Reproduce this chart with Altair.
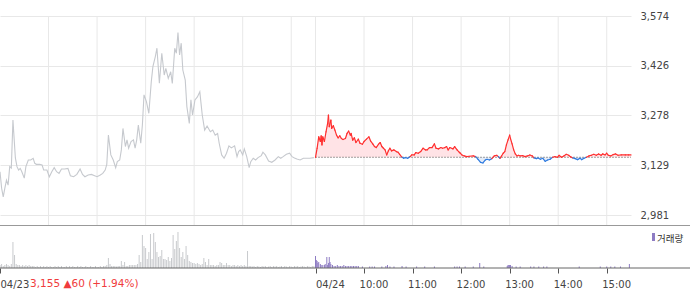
import altair as alt
import numpy as np
import pandas as pd

# ---------------- data ----------------
base_price = 3153          # dotted reference line
last_price = 3155
change = 60
change_pct = 1.94

y_ticks = [2981, 3129, 3278, 3426, 3574]
x_tick_minutes = [0, 390, 450, 510, 570, 630, 690, 750]
x_tick_labels = ["04/23", "04/24", "10:00", "11:00", "12:00", "13:00", "14:00", "15:00"]
grid_minutes = [60, 120, 180, 240, 300, 360, 390, 450, 510, 570, 630, 690, 750]

# minutes since 04/23 09:00 (session time, 390 min per day)
day1_minutes = [0, 2, 4, 6, 8, 10, 12, 14, 16, 19,
                21, 23, 25, 27, 30, 32, 35, 38, 41, 43,
                45, 49, 52, 54, 58, 61, 64, 67, 70, 73,
                76, 80, 84, 87, 91, 95, 99, 102, 105, 109,
                113, 117, 120, 124, 127, 130, 132, 134, 137, 140,
                143, 145, 148, 150, 152, 155, 157, 159, 162, 165,
                167, 169, 171, 174, 176, 178, 181, 184, 187, 189,
                192, 194, 197, 200, 203, 205, 208, 211, 213, 216,
                218, 220, 222, 224, 226, 229, 231, 234, 236, 238,
                241, 244, 247, 250, 253, 256, 260, 263, 266, 269,
                271, 274, 277, 280, 283, 286, 290, 293, 295, 297,
                300, 302, 305, 308, 310, 313, 316, 319, 323, 325,
                328, 332, 336, 340, 344, 347, 350, 354, 358, 361,
                364, 367, 371, 375, 379, 383, 388]
day1_prices = [3110, 3061, 3035, 3061, 3085, 3070, 3125, 3121, 3264, 3151,
               3125, 3115, 3120, 3110, 3091, 3125, 3145, 3145, 3150, 3135,
               3132, 3132, 3130, 3115, 3115, 3095, 3110, 3122, 3110, 3105,
               3118, 3118, 3120, 3098, 3095, 3102, 3118, 3102, 3095, 3100,
               3102, 3098, 3095, 3100, 3105, 3115, 3132, 3219, 3160, 3145,
               3122, 3140, 3145, 3175, 3239, 3185, 3205, 3180, 3200, 3205,
               3180, 3205, 3249, 3195, 3249, 3339, 3319, 3284, 3378, 3423,
               3453, 3478, 3374, 3463, 3398, 3418, 3388, 3408, 3373, 3478,
               3463, 3525, 3458, 3493, 3413, 3383, 3304, 3254, 3324, 3279,
               3324, 3333, 3348, 3279, 3234, 3246, 3229, 3234, 3219, 3224,
               3194, 3160, 3150, 3165, 3187, 3181, 3187, 3155, 3170, 3175,
               3160, 3178, 3155, 3122, 3140, 3150, 3145, 3152, 3158, 3168,
               3160, 3142, 3138, 3145, 3155, 3150, 3155, 3162, 3165, 3155,
               3151, 3148, 3145, 3150, 3150, 3150, 3152]

day2_minutes = [390, 392, 394, 396, 397, 398, 399, 401, 403, 405,
                406, 407, 409, 410, 412, 414, 416, 418, 420, 422,
                424, 427, 429, 431, 433, 434, 436, 438, 440, 443,
                445, 448, 450, 453, 456, 458, 461, 463, 465, 468,
                470, 472, 474, 476, 478, 480, 482, 484, 487, 490,
                492, 494, 497, 499, 501, 504, 507, 509, 512, 514,
                517, 520, 523, 526, 528, 531, 534, 537, 539, 542,
                545, 547, 550, 552, 554, 556, 560, 562, 565, 567,
                569, 571, 574, 577, 580, 585, 588, 591, 594, 597,
                600, 602, 605, 608, 611, 614, 616, 618, 620, 622,
                624, 626, 628, 630, 631, 633, 635, 637, 639, 641,
                643, 646, 649, 652, 655, 658, 660, 663, 665, 668,
                671, 674, 677, 680, 683, 686, 689, 691, 694, 697,
                700, 703, 705, 708, 711, 714, 717, 719, 722, 725,
                728, 731, 734, 737, 740, 743, 745, 748, 750, 752,
                755, 758, 761, 764, 768, 773, 777, 780]
day2_prices = [3153, 3180, 3214, 3200, 3217, 3190, 3214, 3200, 3229, 3254,
               3279, 3244, 3264, 3239, 3247, 3234, 3219, 3211, 3217, 3209,
               3206, 3209, 3224, 3231, 3219, 3224, 3204, 3211, 3197, 3207,
               3195, 3192, 3200, 3207, 3214, 3202, 3192, 3185, 3182, 3192,
               3197, 3185, 3180, 3175, 3160, 3172, 3180, 3172, 3175, 3170,
               3168, 3162, 3153, 3150, 3152, 3150, 3155, 3160, 3160, 3167,
               3165, 3170, 3180, 3175, 3175, 3182, 3182, 3193, 3180, 3178,
               3182, 3180, 3182, 3185, 3175, 3182, 3178, 3185, 3175, 3170,
               3165, 3160, 3157, 3155, 3156, 3157, 3155, 3147, 3138, 3136,
               3145, 3147, 3145, 3149, 3157, 3159, 3155, 3150, 3157, 3165,
               3170, 3190, 3205, 3219, 3209, 3193, 3175, 3163, 3157, 3159,
               3157, 3158, 3155, 3157, 3160, 3157, 3151, 3149, 3151, 3147,
               3150, 3141, 3145, 3147, 3153, 3155, 3153, 3159, 3153, 3157,
               3162, 3159, 3155, 3151, 3149, 3146, 3150, 3146, 3150, 3153,
               3157, 3159, 3162, 3159, 3163, 3159, 3163, 3160, 3165, 3159,
               3157, 3161, 3163, 3159, 3160, 3160, 3160, 3160]

# volume (thousand shares) on 04/23, one bar every 2 minutes from 09:00
vol1_minutes = list(range(0, 390, 2))
vol1_values = [3, 4, 2, 3, 4, 3, 2, 4, 26, 13,
               4, 3, 3, 2, 3, 2, 3, 2, 3, 2,
               2, 2, 1, 2, 1, 2, 1, 2, 1, 2,
               1, 2, 1, 1, 2, 1, 2, 1, 2, 1,
               1, 2, 1, 2, 1, 2, 1, 1, 2, 1,
               2, 1, 1, 2, 1, 1, 2, 1, 1, 2,
               1, 1, 2, 1, 2, 2, 3, 10, 4, 2,
               2, 2, 1.5, 2, 2, 7, 3, 6, 2, 2,
               3, 3, 3, 3, 3, 4, 13, 6, 33, 22,
               20, 9, 16, 34, 9, 35, 26, 16, 11, 12,
               18, 9, 9, 8, 11, 7, 10, 33, 19, 27,
               36, 20, 11, 16, 9, 22, 13, 7, 6, 5,
               5, 4, 5, 4, 3, 4, 10, 6, 3, 9,
               3, 3, 3, 2, 3, 3, 6, 5, 3, 3,
               5, 3, 3, 2, 3, 3, 2, 3, 2, 3,
               2, 3, 2, 17, 2, 2, 1.5, 2, 1, 2,
               1.5, 1, 2, 1.5, 2, 1, 1.5, 2, 1, 2,
               1.5, 2, 1, 1.5, 2, 1, 2, 1.5, 1, 2,
               1.5, 1, 2, 1.5, 2, 1, 1.5, 2, 1.5, 1,
               2, 1.5, 1, 2, 2]
# volume on 04/24
vol2_minutes = [390, 391, 392, 393, 394, 396, 397, 399, 401, 402,
                404, 405, 406, 407, 408, 409, 411, 413, 415, 417,
                419, 421, 423, 425, 427, 429, 431, 433, 435, 437,
                439, 441, 443, 448, 457, 460, 463, 472, 477, 479,
                482, 487, 497, 502, 515, 525, 537, 562, 565, 568,
                575, 585, 593, 598, 627, 628, 629, 630, 631, 633,
                638, 643, 656, 660, 666, 672, 676, 716, 742, 750,
                755, 760, 767, 778]
vol2_values = [12, 8, 7, 5, 6, 4, 3, 3, 3, 4,
               11, 3, 5, 11, 6, 4, 3, 2, 2, 3,
               2, 2, 2, 3, 2, 2, 2, 2, 2, 2,
               2, 2, 2, 1.5, 1.5, 1.5, 1.5, 1.5, 2, 3,
               1.5, 1.5, 2, 1.5, 1.5, 1.5, 1.5, 1.5, 1.5, 1.5,
               1.5, 1.5, 5, 1.5, 2, 3, 3, 3, 3, 2,
               1.5, 1.5, 1.5, 1.5, 1.5, 1.5, 1.5, 1.5, 1.5, 1.5,
               1.5, 1.5, 1.5, 4]

# ---------------- styling ----------------
RED = "#ff2f2f"
BLUE = "#2f7be0"
GRAY_LINE = "#c6c9ce"
GRAY_VOL = "#c8cacd"
PURPLE = "#8e7cc3"
FONT = "DejaVu Sans"

x_scale = alt.Scale(domain=[0, 780], nice=False, zero=False)
price_scale = alt.Scale(domain=[2981, 3574], range=[215, 16], nice=False, zero=False)
vol_scale = alt.Scale(domain=[0, 42], range=[268, 226], nice=False, zero=False)

label_expr = " : ".join(
    f"datum.value == {m} ? '{l}'" for m, l in zip(x_tick_minutes, x_tick_labels)
) + " : ''"

x_axis = alt.Axis(
    values=x_tick_minutes, labelExpr=label_expr, grid=False, domain=False,
    ticks=True, tickSize=5, tickColor="#555", labelPadding=6,
    labelAlign="left", labelOffset=alt.expr("datum.value >= 450 ? -5 : 0"),
    labelFont=FONT, labelFontSize=10, labelColor="#444",
    labelOverlap=False, labelBound=False, labelFlush=False, title=None,
)
y_axis = alt.Axis(
    orient="right", values=y_ticks, format=",.0f", ticks=False, domain=False,
    labelPadding=9, labelAlign="left", labelBaseline="middle",
    labelFont=FONT, labelFontSize=10, labelColor="#444",
    grid=True, gridColor="#e8e8e8", gridWidth=1, title=None,
)


def X(field="t"):
    return alt.X(f"{field}:Q", scale=x_scale, axis=x_axis, title=None)


def YP(field, axis=None):
    return alt.Y(f"{field}:Q", scale=price_scale, axis=axis, title=None)


# ---------------- tables ----------------
d1 = pd.DataFrame({"t": day1_minutes, "p": day1_prices})
d2 = pd.DataFrame({"t": day2_minutes, "p": day2_prices})
d2["base"] = base_price
d2["up"] = np.maximum(d2["p"], base_price)
d2["dn"] = np.minimum(d2["p"], base_price)

seg = d2[["t", "p"]].copy()
seg["t2"] = seg["t"].shift(-1)
seg["p2"] = seg["p"].shift(-1)
seg = seg.dropna()
seg["dir"] = np.where((seg["p"] + seg["p2"]) / 2 >= base_price, "up", "down")

v1 = pd.DataFrame({"t": vol1_minutes, "v": vol1_values, "z": 0})
v2 = pd.DataFrame({"t": vol2_minutes, "v": vol2_values, "z": 0})

base_df = pd.DataFrame({"t": [day2_minutes[0]], "t2": [day2_minutes[-1]], "p": [base_price]})
one = pd.DataFrame({"k": [0]})

# ---------------- layers ----------------
vgrid = alt.Chart(pd.DataFrame({"t": grid_minutes})).mark_rule(
    color="#e8e8e8", strokeWidth=1
).encode(x=X(), y=alt.value(16), y2=alt.value(225))

area_up = alt.Chart(d2).mark_area(color="#ffe3e6", opacity=1).encode(
    x=X(), y=YP("up"), y2="base:Q"
)
area_dn = alt.Chart(d2).mark_area(color="#e2ebf9", opacity=1).encode(
    x=X(), y=YP("dn"), y2="base:Q"
)

base_line = alt.Chart(base_df).mark_rule(
    color="#444", strokeDash=[1, 2], strokeWidth=1
).encode(x=X(), x2="t2:Q", y=YP("p"))

line1 = alt.Chart(d1).mark_line(color=GRAY_LINE, strokeWidth=1.1).encode(
    x=X(), y=YP("p", y_axis)
)

line2 = alt.Chart(seg).mark_rule(strokeWidth=1.2, strokeCap="round").encode(
    x=X(), x2="t2:Q", y=YP("p"), y2="p2:Q",
    color=alt.Color("dir:N", scale=alt.Scale(domain=["up", "down"], range=[RED, BLUE]), legend=None),
)

vol1 = alt.Chart(v1).mark_rule(color=GRAY_VOL, strokeWidth=1).encode(
    x=X(), y=alt.Y("v:Q", scale=vol_scale, axis=None), y2="z:Q"
)
vol2 = alt.Chart(v2).mark_rule(color=PURPLE, strokeWidth=1).encode(
    x=X(), y=alt.Y("v:Q", scale=vol_scale, axis=None), y2="z:Q"
)

sep_line = alt.Chart(one).mark_rule(color="#999", strokeWidth=1).encode(
    x=alt.value(0), x2=alt.value(690), y=alt.value(225.5)
)
bottom_line = alt.Chart(one).mark_rule(color="#666", strokeWidth=1).encode(
    x=alt.value(0), x2=alt.value(690), y=alt.value(268)
)

legend_box = alt.Chart(one).mark_rect(color=PURPLE).encode(
    x=alt.value(652), x2=alt.value(655), y=alt.value(233), y2=alt.value(241)
)
legend_text = alt.Chart(pd.DataFrame({"label": ["거래량"]})).mark_text(
    align="left", baseline="alphabetic", font="Noto Sans CJK KR", fontSize=9.5, color="#333"
).encode(x=alt.value(657), y=alt.value(241.5), text="label:N")

ann = alt.Chart(pd.DataFrame({
    "label": [f"{last_price:,} \u25b2{change} (+{change_pct:.2f}%)"]
})).mark_text(
    align="left", baseline="alphabetic", font=FONT, fontSize=10.5, color="#f03c3c"
).encode(x=alt.value(30), y=alt.value(287), text="label:N")

chart = alt.layer(
    vgrid, area_up, area_dn, base_line, line1, line2, vol1, vol2,
    sep_line, bottom_line, legend_box, legend_text, ann
).resolve_scale(y="independent").properties(
    width=631, height=268,
    padding={"left": 0, "top": 0, "right": 69, "bottom": 21},
    autosize=alt.AutoSizeParams(type="none"),
).configure_view(stroke=None)

chart.save("out.html", embed_options={"renderer": "svg", "actions": False})
